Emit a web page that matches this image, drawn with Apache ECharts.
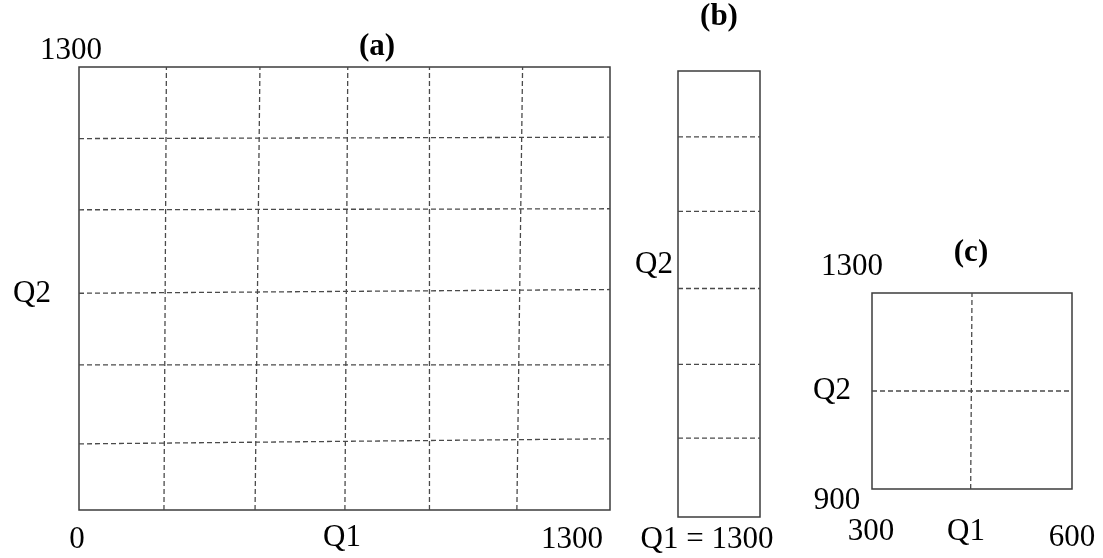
<!DOCTYPE html>
<html>
<head>
<meta charset="utf-8">
<script src="https://cdn.jsdelivr.net/npm/echarts@6/dist/echarts.min.js"></script>
<style>
html,body{margin:0;padding:0;background:#fff;}
#chart{width:1103px;height:558px;}
</style>
</head>
<body>
<div id="chart"></div>
<script>
// ---- Data ----
// Panel (a): Q1 in [0,1300], Q2 in [0,1300]; dashed partition lines (slightly hand-drawn)
const rangeA = [0, 1300];
const panelA_Q1_bottom = [208, 431, 651, 858, 1072];
const panelA_Q1_top    = [214, 443, 658, 858, 1086];
const panelA_Q2_left   = [1090, 881, 636, 426, 194];
const panelA_Q2_right  = [1094, 884, 647, 426, 209];
// Panel (b): Q1 = 1300 fixed, Q2 in [0,1300]
const rangeB_Q2 = [0, 1300];
const rangeB_Q1 = [0, 1];
const panelB_Q2 = [1108, 891, 666, 445, 230];
// Panel (c): Q1 in [300,600], Q2 in [900,1300]
const rangeC_Q1 = [300, 600];
const rangeC_Q2 = [900, 1300];
const panelC_Q1_bottom = [448];
const panelC_Q1_top    = [450];
const panelC_Q2        = [1100];
// Text
const titles = ['(a)', '(b)', '(c)'];
const tickLabelsA = ['0', '1300', '1300'];
const tickLabelsB = ['Q1 = 1300'];
const tickLabelsC = ['300', '600', '900', '1300'];
const axisNames = ['Q1', 'Q2'];

// ---- Chart ----
const FONT = '"Liberation Serif", "DejaVu Serif", serif';
const dashStyle = { color: '#4a4a4a', width: 1.3, type: [5, 3] };

function seg(xAxisIndex, yAxisIndex, p1, p2) {
  return {
    type: 'line', xAxisIndex, yAxisIndex, data: [p1, p2],
    showSymbol: false, symbol: 'none', silent: true, animation: false,
    lineStyle: dashStyle, z: 3
  };
}
const series = [];
panelA_Q1_bottom.forEach((v, i) => series.push(seg(0, 0, [v, rangeA[0]], [panelA_Q1_top[i], rangeA[1]])));
panelA_Q2_left.forEach((v, i) => series.push(seg(0, 0, [rangeA[0], v], [rangeA[1], panelA_Q2_right[i]])));
panelB_Q2.forEach(v => series.push(seg(1, 1, [rangeB_Q1[0], v], [rangeB_Q1[1], v])));
panelC_Q1_bottom.forEach((v, i) => series.push(seg(2, 2, [v, rangeC_Q2[0]], [panelC_Q1_top[i], rangeC_Q2[1]])));
panelC_Q2.forEach(v => series.push(seg(2, 2, [rangeC_Q1[0], v], [rangeC_Q1[1], v])));

const gridStyle = { show: true, borderColor: '#3c3c3c', borderWidth: 1.5, backgroundColor: 'transparent' };
function hiddenAxis(gridIndex, range) {
  return { type: 'value', gridIndex, min: range[0], max: range[1], show: false };
}
function txt(text, x, y, opts) {
  return {
    type: 'text', x, y, silent: true,
    style: Object.assign({
      text, fontSize: 31, fontFamily: FONT, fill: '#000',
      align: 'center', verticalAlign: 'middle'
    }, opts || {})
  };
}

const option = {
  backgroundColor: '#fff',
  animation: false,
  grid: [
    Object.assign({ left: 79, top: 67, width: 531, height: 443 }, gridStyle),
    Object.assign({ left: 678, top: 71, width: 82, height: 446 }, gridStyle),
    Object.assign({ left: 872, top: 293, width: 200, height: 196 }, gridStyle)
  ],
  xAxis: [hiddenAxis(0, rangeA), hiddenAxis(1, rangeB_Q1), hiddenAxis(2, rangeC_Q1)],
  yAxis: [hiddenAxis(0, rangeA), hiddenAxis(1, rangeB_Q2), hiddenAxis(2, rangeC_Q2)],
  series,
  graphic: [
    // titles
    txt(titles[0], 377, 47, { fontWeight: 'bold' }),
    txt(titles[1], 719, 17, { fontWeight: 'bold' }),
    txt(titles[2], 971, 253, { fontWeight: 'bold' }),
    // panel (a)
    txt(tickLabelsA[2], 71, 51),
    txt(axisNames[1], 32, 294),
    txt(tickLabelsA[0], 77, 540),
    txt(axisNames[0], 342, 538),
    txt(tickLabelsA[1], 572, 540),
    // panel (b)
    txt(axisNames[1], 654, 265),
    txt(tickLabelsB[0], 707, 540),
    // panel (c)
    txt(tickLabelsC[3], 852, 267),
    txt(axisNames[1], 832, 391),
    txt(tickLabelsC[2], 837, 501),
    txt(tickLabelsC[0], 871, 532),
    txt(axisNames[0], 966, 532),
    txt(tickLabelsC[1], 1072, 538)
  ]
};

const chart = echarts.init(document.getElementById('chart'), null, { renderer: 'canvas' });
chart.setOption(option);
</script>
</body>
</html>
